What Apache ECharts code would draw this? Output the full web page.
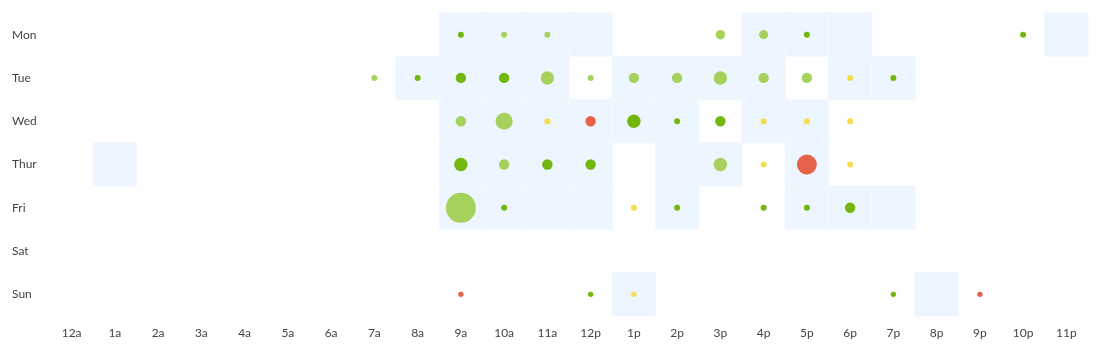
<!DOCTYPE html>
<html>
<head>
<meta charset="utf-8">
<style>
  html, body { margin: 0; padding: 0; background: #fff; }
  #chart { width: 1097px; height: 351px; }
</style>
<script src="https://cdn.jsdelivr.net/npm/echarts@6/dist/echarts.min.js"></script>
</head>
<body>
<div id="chart"></div>
<script>
const hours = ["12a", "1a", "2a", "3a", "4a", "5a", "6a", "7a", "8a", "9a", "10a", "11a",
  "12p", "1p", "2p", "3p", "4p", "5p", "6p", "7p", "8p", "9p", "10p", "11p"];
const days = ["Mon", "Tue", "Wed", "Thur", "Fri", "Sat", "Sun"];

// highlighted (light blue) cells: [hourIndex, dayIndex]
const blockedCells = [
  [9, 0], [10, 0], [11, 0], [12, 0], [16, 0], [17, 0], [18, 0], [23, 0],
  [8, 1], [9, 1], [10, 1], [11, 1], [13, 1], [14, 1], [15, 1], [16, 1], [18, 1], [19, 1],
  [9, 2], [10, 2], [11, 2], [12, 2], [13, 2], [14, 2], [16, 2], [17, 2],
  [1, 3], [9, 3], [10, 3], [11, 3], [12, 3], [14, 3], [15, 3], [17, 3],
  [9, 4], [10, 4], [11, 4], [12, 4], [14, 4], [17, 4], [18, 4], [19, 4],
  [13, 6], [20, 6]
];

// bubbles: [hourIndex, dayIndex, count, rating]
// rating: 0 = dark green, 1 = light green, 2 = yellow, 3 = red
const bubbles = [
  [9, 0, 1, 0], [10, 0, 1, 1], [11, 0, 1, 1], [15, 0, 2.5, 1], [16, 0, 2.3, 1], [17, 0, 1, 0], [22, 0, 1, 0],
  [7, 1, 1, 1], [8, 1, 1, 0], [9, 1, 3, 0], [10, 1, 3, 0], [11, 1, 5, 1], [12, 1, 1, 1],
  [13, 1, 3, 1], [14, 1, 3, 1], [15, 1, 5, 1], [16, 1, 3, 1], [17, 1, 3, 1], [18, 1, 1, 2], [19, 1, 1, 0],
  [9, 2, 3, 1], [10, 2, 8, 1], [11, 2, 1, 2], [12, 2, 3, 3], [13, 2, 5, 0], [14, 2, 1, 0],
  [15, 2, 3, 0], [16, 2, 1, 2], [17, 2, 1, 2], [18, 2, 1, 2],
  [9, 3, 5, 0], [10, 3, 3, 1], [11, 3, 3, 0], [12, 3, 3, 0], [15, 3, 5, 1], [16, 3, 1, 2], [17, 3, 11, 3], [18, 3, 1, 2],
  [9, 4, 25, 1], [10, 4, 1, 0], [13, 4, 1, 2], [14, 4, 1, 0], [16, 4, 1, 0], [17, 4, 1, 0], [18, 4, 3, 0],
  [9, 6, 0.8, 3], [12, 6, 0.8, 0], [13, 6, 0.8, 2], [19, 6, 0.8, 0], [21, 6, 0.8, 3]
];

const ratingColors = ["#72b60e", "#a6d15c", "#f5dd4b", "#e6634a"];

const chart = echarts.init(document.getElementById("chart"));

const option = {
  animation: false,
  textStyle: { fontFamily: "Lato, 'Open Sans', sans-serif" },
  grid: { left: 50, right: 9, top: 13, bottom: 35 },
  xAxis: {
    type: "category",
    data: hours,
    axisLine: { show: false },
    axisTick: { show: false },
    splitLine: { show: false },
    axisLabel: { color: "#444", fontSize: 12, margin: 11 }
  },
  yAxis: {
    type: "category",
    data: days,
    inverse: true,
    axisLine: { show: false },
    axisTick: { show: false },
    splitLine: { show: false },
    axisLabel: { color: "#444", fontSize: 12, align: "left", margin: 38 }
  },
  visualMap: {
    show: false,
    seriesIndex: 0,
    min: 0,
    max: 1,
    inRange: { color: ["#edf5fe", "#edf5fe"] }
  },
  series: [
    {
      type: "heatmap",
      data: blockedCells.map((c) => [c[0], c[1], 1]),
      itemStyle: { borderColor: "#f5f9ff", borderWidth: 1 },
      emphasis: { disabled: true }
    },
    {
      type: "scatter",
      data: bubbles.map((b) => ({
        value: [b[0], b[1], b[2]],
        itemStyle: { color: ratingColors[b[3]], opacity: 1 }
      })),
      symbolSize: (val) => 6 * Math.sqrt(val[2]),
      z: 3
    }
  ]
};

chart.setOption(option);
</script>
</body>
</html>
